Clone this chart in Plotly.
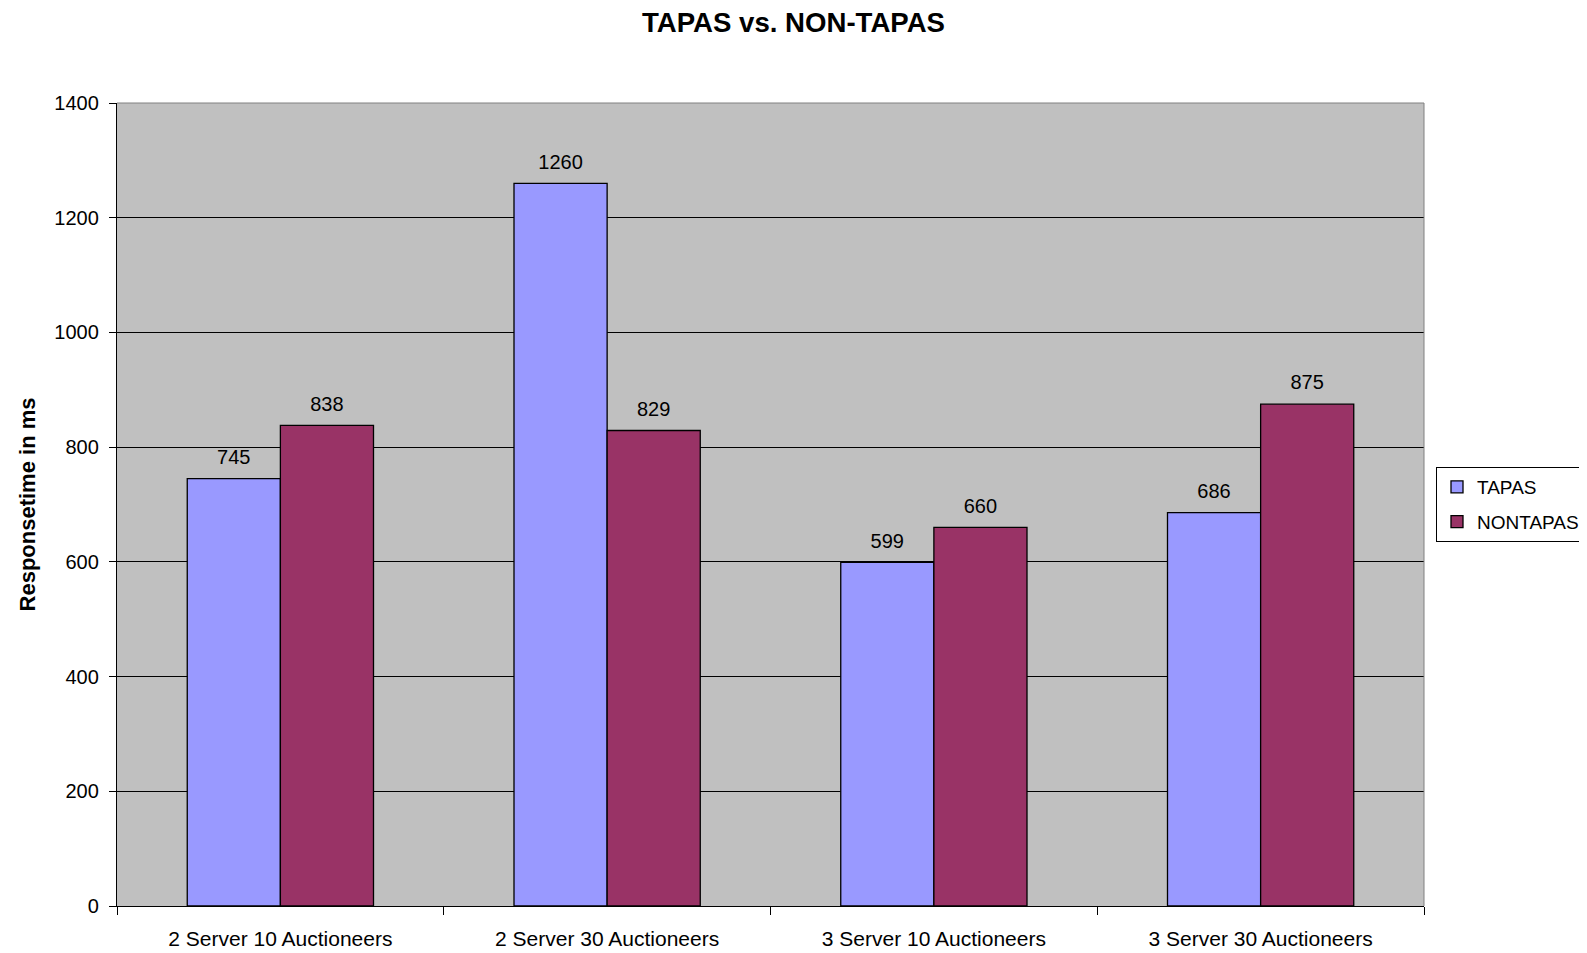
import plotly.graph_objects as go

categories = ["2 Server 10 Auctioneers", "2 Server 30 Auctioneers",
              "3 Server 10 Auctioneers", "3 Server 30 Auctioneers"]
tapas = [745, 1260, 599, 686]
nontapas = [838, 829, 660, 875]
y_ticks = [0, 200, 400, 600, 800, 1000, 1200, 1400]

FONT = "Liberation Sans, Arial, sans-serif"
GAP = 0.43

fig = go.Figure()
for name, vals, color in [("TAPAS", tapas, "#9999FF"), ("NONTAPAS", nontapas, "#993366")]:
    fig.add_trace(go.Bar(
        name=name, x=categories, y=vals, legendgroup=name,
        marker=dict(color=color, line=dict(color="#000000", width=1.3)),
    ))
for name, vals in [("TAPAS", tapas), ("NONTAPAS", nontapas)]:
    fig.add_trace(go.Scatter(
        name=name + " labels", x=categories, y=vals, showlegend=False,
        mode="markers+text", marker=dict(size=14, opacity=0),
        text=[str(v) for v in vals], textposition="top center",
        textfont=dict(family=FONT, size=20, color="#000000"),
        hoverinfo="skip", cliponaxis=False,
    ))

# page body has an 8px margin, so the figure is shifted by 8px; compensate
W, H = 1579, 945
fig.update_layout(
    width=W, height=H,
    margin=dict(l=109, r=163, t=95, b=47, autoexpand=False),
    paper_bgcolor="#FFFFFF",
    plot_bgcolor="#C0C0C0",
    barmode="group", bargap=GAP, bargroupgap=0,
    scattermode="group", scattergap=GAP,
    font=dict(family=FONT, size=20, color="#000000"),
    title=dict(text="<b>TAPAS vs. NON-TAPAS</b>", x=(793.5 - 8) / W, xanchor="center",
               y=1 - 14.5 / H, yanchor="middle",
               font=dict(family=FONT, size=27.6, color="#000000")),
    legend=dict(x=(1436 - 117) / 1307, xanchor="left",
                y=(906 - 467) / 803, yanchor="top",
                bgcolor="#FFFFFF", bordercolor="#000000", borderwidth=1,
                font=dict(family=FONT, size=19, color="#000000"),
                itemwidth=30, tracegroupgap=7),
    showlegend=True,
)
fig.update_xaxes(
    showgrid=False, showline=True, linecolor="#000000", linewidth=1.3,
    ticks="outside", tickson="boundaries", ticklen=8, tickcolor="#000000",
    ticklabelstandoff=14,
    tickfont=dict(family=FONT, size=21, color="#000000"),
)
fig.update_yaxes(
    range=[0, 1400], tickvals=y_ticks, showgrid=True, gridcolor="#000000",
    gridwidth=1, showline=True, linecolor="#000000", linewidth=1.3,
    ticks="outside", ticklen=7, tickcolor="#000000", ticklabelstandoff=6,
    tickfont=dict(family=FONT, size=20, color="#000000"),
    zeroline=False,
    title=dict(text="<b>Responsetime in ms</b>", standoff=12,
               font=dict(family=FONT, size=22, color="#000000")),
)
fig.add_shape(type="line", xref="paper", yref="paper", x0=0, x1=1, y0=1, y1=1,
              line=dict(color="#808080", width=1))
fig.add_shape(type="line", xref="paper", yref="paper", x0=1, x1=1, y0=0, y1=1,
              line=dict(color="#808080", width=1))

fig.write_html("out.html")
